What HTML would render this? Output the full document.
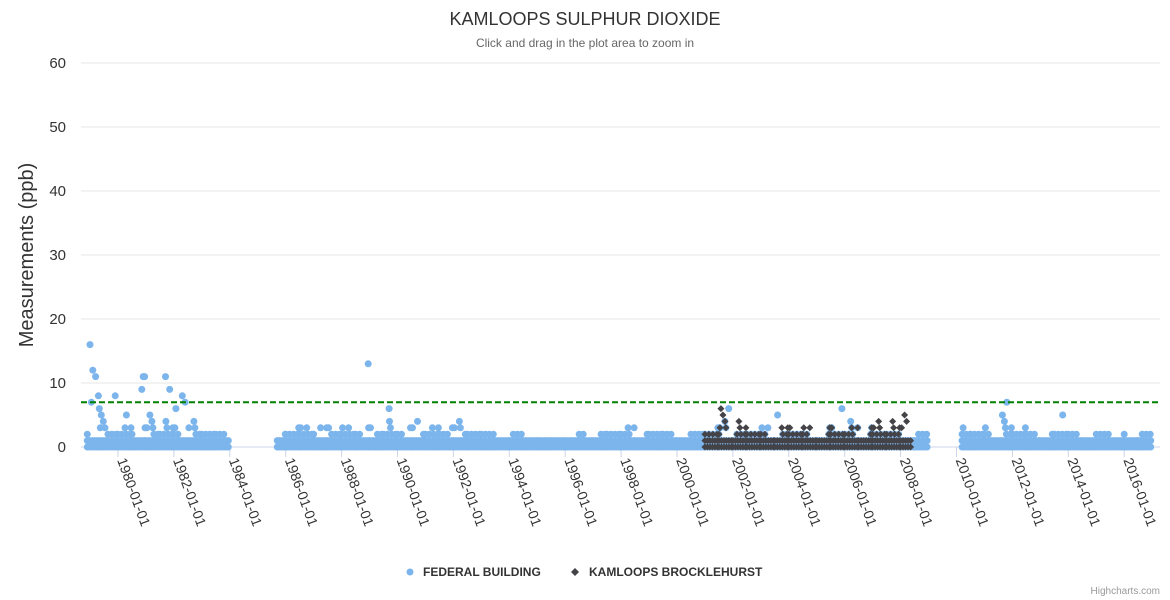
<!DOCTYPE html>
<html><head><meta charset="utf-8">
<style>
html,body{margin:0;padding:0;background:#fff;}
svg{display:block;font-family:"Liberation Sans","DejaVu Sans",sans-serif;}
</style></head>
<body>
<svg id="chart" width="1170" height="600" viewBox="0 0 1170 600">
  <text x="585" y="25" text-anchor="middle" font-size="18" fill="#333">KAMLOOPS SULPHUR DIOXIDE</text>
  <text x="585" y="47" text-anchor="middle" font-size="12" fill="#666">Click and drag in the plot area to zoom in</text>
  <text transform="translate(33,255) rotate(-90)" text-anchor="middle" font-size="20" fill="#333">Measurements (ppb)</text>
  <g id="grid"></g>
  <g id="xaxis"></g>
  <g id="fed"></g>
  <g id="brk"></g>
  <line id="thresh" x1="81" x2="1160" stroke="#008000" stroke-width="2" stroke-dasharray="6,3"></line>
  <g>
    <g>
      <circle cx="410" cy="572" r="3.5" fill="#7cb5ec"></circle>
      <text x="423" y="576" font-size="12" font-weight="bold" fill="#333">FEDERAL BUILDING</text>
    </g>
    <g>
      <path d="M575 568 L579 572 L575 576 L571 572 Z" fill="#434348"></path>
      <text x="589" y="576" font-size="12" font-weight="bold" fill="#333">KAMLOOPS BROCKLEHURST</text>
    </g>
  </g>
  <text x="1160" y="594" text-anchor="end" font-size="10" fill="#999">Highcharts.com</text>
</svg>
<script>
const yTicks = [0,10,20,30,40,50,60];
const xTickYears = [1980,1982,1984,1986,1988,1990,1992,1994,1996,1998,2000,2002,2004,2006,2008,2010,2012,2014,2016];
const thresholdValue = 7;
// Federal Building: half-year period start and max observed value (null = no data)
const fedPeriods = [1978.9,1979.5,1980.0,1980.5,1981.0,1981.5,1982.0,1982.5,1983.0,1983.5,1984.0,1984.5,1985.0,1985.7,1986.0,1986.5,1987.0,1987.5,1988.0,1988.5,1989.0,1989.5,1990.0,1990.5,1991.0,1991.5,1992.0,1992.5,1993.0,1993.5,1994.0,1994.5,1995.0,1995.5,1996.0,1996.5,1997.0,1997.5,1998.0,1998.5,1999.0,1999.5,2000.0,2000.5,2001.0,2001.5,2002.0,2002.5,2003.0,2003.5,2004.0,2004.5,2005.0,2005.5,2006.0,2006.5,2007.0,2007.5,2008.0,2008.5,2009.0,2009.5,2010.2,2010.5,2011.0,2011.5,2012.0,2012.5,2013.0,2013.5,2014.0,2014.5,2015.0,2015.5,2016.0,2016.5];
const fedMax = [6,3,3,5,5,5,6,4,2,2,null,null,null,2,4,3,3,3,3,5,4,4,3,4,3,3,4,2,2,1,2,1,1,1,1,2,2,2,3,2,2,2,2,2,3,4,2,2,3,2,2,2,3,4,4,3,2,2,2,2,null,null,3,2,3,5,4,2,2,2,2,2,2,1,2,2];
const fedEnd = 2016.95;
const fedOutlierDates = [1979.0,1979.1,1979.2,1979.05,1979.3,1980.85,1980.9,1980.95,1981.7,1981.85,1982.3,1982.4,1979.9,1980.3,1988.95,1989.7,2001.85,2003.6,2005.9,2011.8,2013.8];
const fedOutlierValues = [16,12,11,7,8,9,11,11,11,9,8,7,8,5,13,6,6,5,6,7,5];
// Kamloops Brocklehurst
const brkPeriods = [2001.0,2001.5,2002.0,2002.5,2003.0,2003.5,2004.0,2004.5,2005.0,2005.5,2006.0,2006.5,2007.0,2007.5,2008.0];
const brkMax = [2,6,4,2,2,3,3,3,4,3,3,4,4,4,5];
const brkEnd = 2008.4;

const NS="http://www.w3.org/2000/svg";
const X0=81, X1=1160, Y0=447, Y1=63;
const xs = yr => 118 + (yr-1980)*27.95;
const ys = v => Y0 - (v/60)*(Y0-Y1);
function mk(tag,attrs,parent){const e=document.createElementNS(NS,tag);for(const k in attrs)e.setAttribute(k,attrs[k]);parent.appendChild(e);return e;}

const grid=document.getElementById('grid');
yTicks.forEach(t=>{
  const l=mk('line',{x1:X0,x2:X1,y1:ys(t),y2:ys(t),stroke:t===0?'#ccd6eb':'#e6e6e6','stroke-width':1},grid);
  
  
  const tx=mk('text',{x:66,y:ys(t)+5,'text-anchor':'end','font-size':15,fill:'#333'},grid);
  tx.textContent=t;
  
  
});
const xa=document.getElementById('xaxis');
xTickYears.forEach(y=>{
  const x=xs(y);
  const l=mk('line',{x1:x,x2:x,y1:Y0,y2:Y0+10,stroke:'#ccd6eb'},xa);
  
  
  const t=mk('text',{transform:`translate(${x-1},${Y0+13}) rotate(70)`,'font-size':14,fill:'#333'},xa);
  t.textContent=y+'-01-01';
  
  
});
const th=document.getElementById('thresh');
th.setAttribute('y1',ys(thresholdValue));th.setAttribute('y2',ys(thresholdValue));

function circle(g,x,v,c){const e=mk('circle',{cx:x.toFixed(1),cy:ys(v).toFixed(1),r:3.5,fill:c},g);
  
  }
function diamond(g,x,v,c){const y=ys(v);const e=mk('path',{d:`M${x} ${y-3.5}L${x+3.5} ${y}L${x} ${y+3.5}L${x-3.5} ${y}Z`,fill:c},g);
  
  }

function drawSeries(g,periods,maxes,end,color,shape){
  for(let i=0;i<periods.length;i++){
    const m=maxes[i]; if(m===null) continue;
    const a=xs(periods[i]), b=xs(i+1<periods.length?periods[i+1]:end);
    for(let lv=0;lv<=m;lv++){
      const step = lv<=1?2.5:(lv===2?4:(lv===3?6:10));
      const off = lv>=3 ? (lv*5)%7 : 0;
      for(let x=a+off;x<=b;x+=step){
        if(lv===2 && Math.floor(x/15)%3===0) continue;
        if(lv===3 && Math.floor(x/11)%2===0) continue;
        if(lv>=4 && Math.floor(x/11)%2===0 && b-a>12) continue;
        if(shape==='c')circle(g,x,lv,color); else diamond(g,x,lv,color);
      }
    }
  }
}
const fed=document.getElementById('fed');
drawSeries(fed,fedPeriods,fedMax,fedEnd,'#7cb5ec','c');
fedOutlierDates.forEach((d,i)=>circle(fed,xs(d),fedOutlierValues[i],'#7cb5ec'));
const brk=document.getElementById('brk');
drawSeries(brk,brkPeriods,brkMax,brkEnd,'#434348','d');
</script>
</body></html>
